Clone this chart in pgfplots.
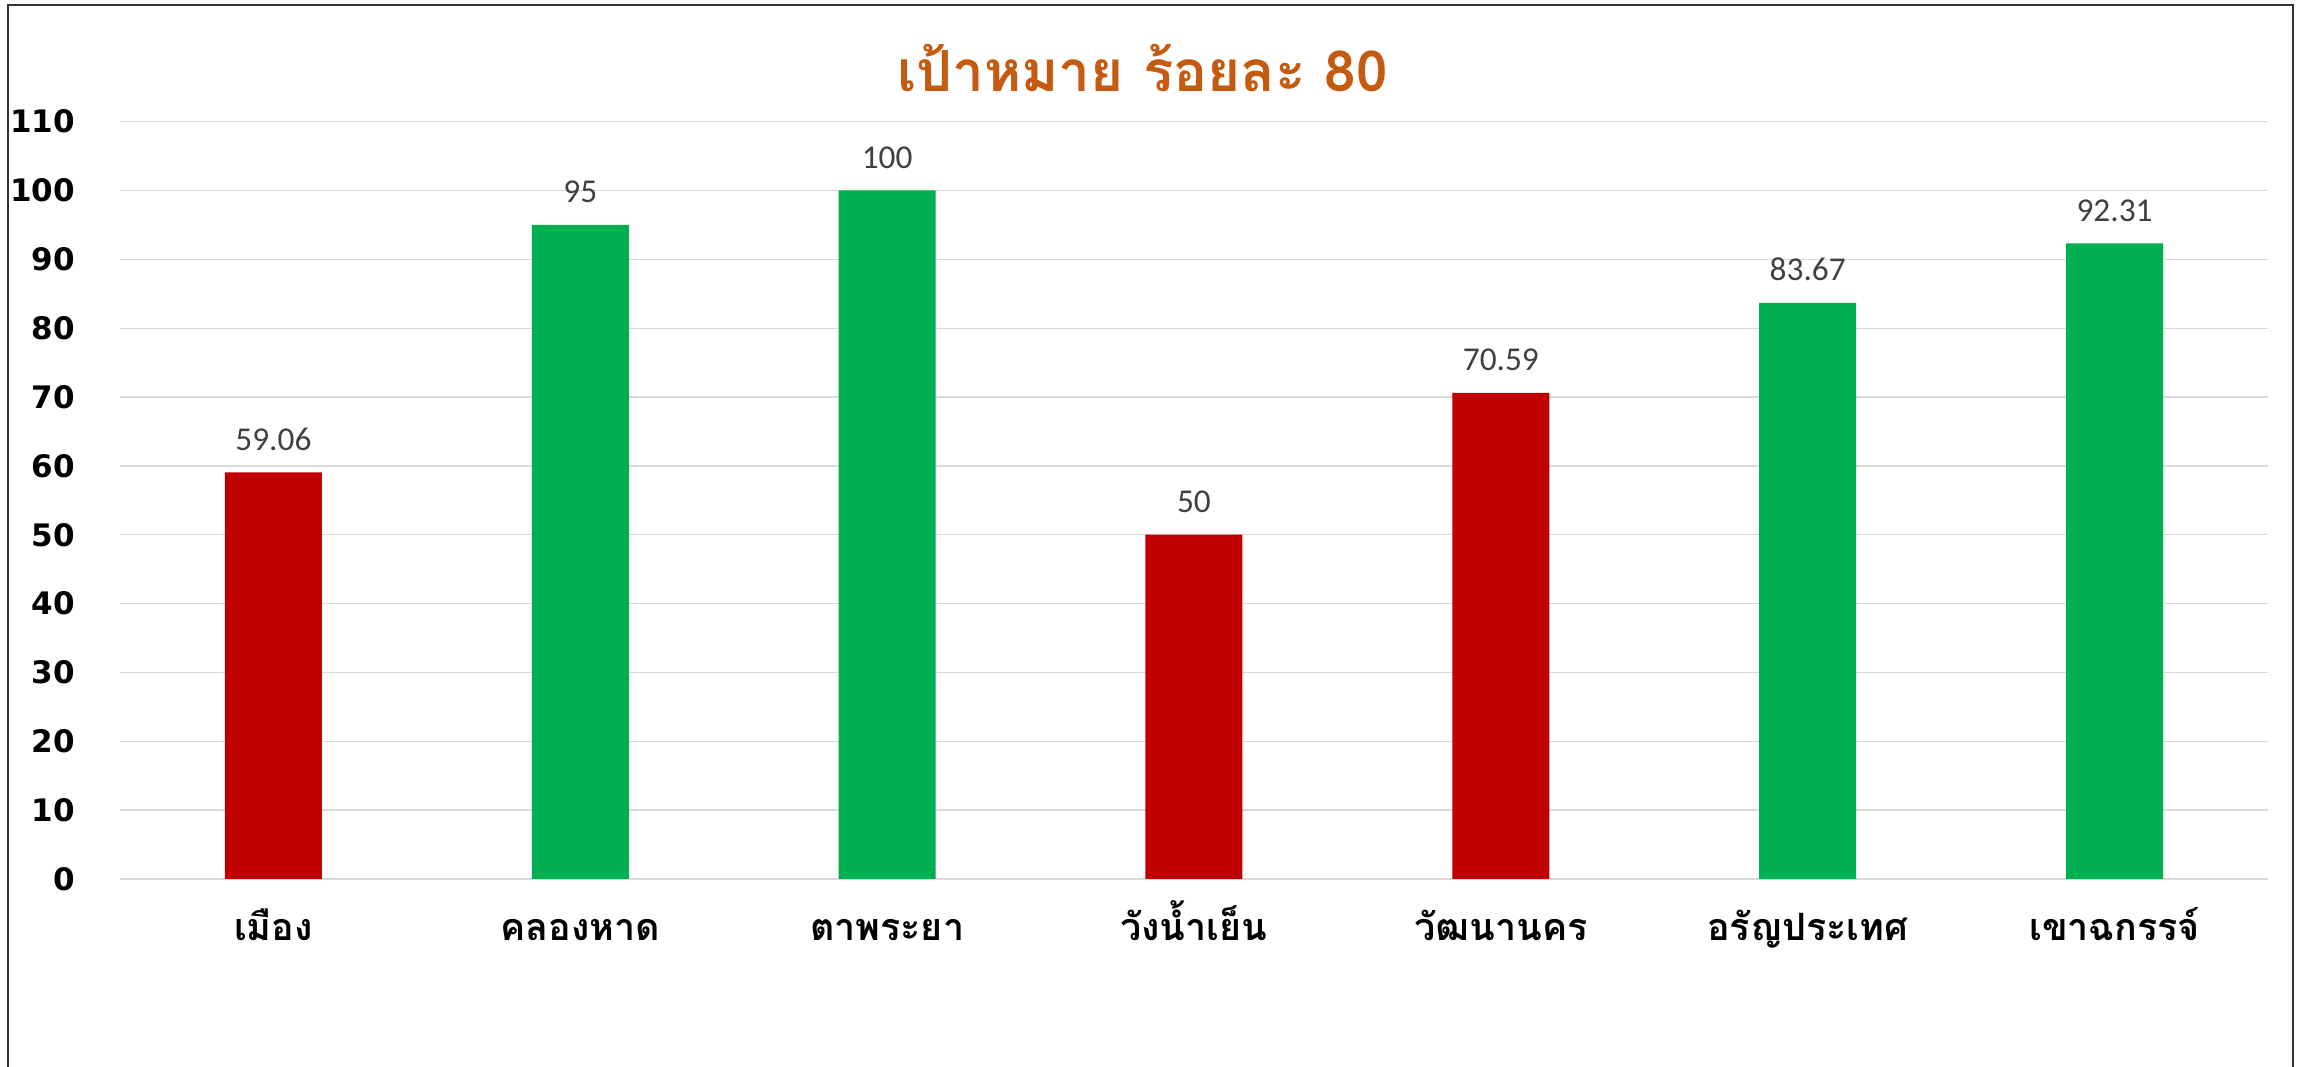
\documentclass[border=0pt]{standalone}
\usepackage{fontspec}
\usepackage{pgfplots}
\pgfplotsset{compat=1.18}
\newfontfamily\thaifont[Script=Thai]{Loma}
\newfontfamily\valfont{Carlito}
\newfontfamily\tickfont{DejaVu Sans}
\definecolor{barred}{HTML}{C00000}
\definecolor{bargreen}{HTML}{00B050}
\definecolor{titleorange}{HTML}{C55A11}
\definecolor{gridgray}{HTML}{D9D9D9}
\definecolor{valgray}{HTML}{404040}

% red = below target, green = at or above target
\pgfplotstableread{
x y lab
0 59.06 59.06
3 50 50
4 70.59 70.59
}\redtab
\pgfplotstableread{
x y lab
1 95 95
2 100 100
5 83.67 83.67
6 92.31 92.31
}\greentab

\begin{document}
\begin{tikzpicture}
\begin{axis}[
  at={(0,0)}, anchor=south west,
  width=644.4pt, height=227.2pt, scale only axis,
  xmin=-0.5, xmax=6.5, ymin=0, ymax=110,
  ytick={0,10,...,110},
  xtick={0,...,6},
  xticklabels={เมือง, คลองหาด, ตาพระยา, วังน้ำเย็น, วัฒนานคร, อรัญประเทศ, เขาฉกรรจ์},
  axis line style={draw=none},
  major tick length=0pt,
  ymajorgrids, grid style={gridgray, line width=0.4pt},
  yticklabel style={font=\tickfont\bfseries\fontsize{9.3}{10}\selectfont, xshift=-10pt},
  xticklabel style={font=\thaifont\bfseries\fontsize{11.3}{13}\selectfont,
                    anchor=base, yshift=-18.4pt},
  /pgf/number format/assume math mode=true,
  title={เป้าหมาย ร้อยละ 80},
  title style={at={(axis description cs:0.476,1.045)}, anchor=center,
               text=titleorange, font=\thaifont\bfseries\fontsize{17}{20}\selectfont},
  ybar, bar width=29.1pt, bar shift=0pt,
  nodes near coords, point meta=explicit symbolic,
  every node near coord/.append style={font=\valfont\fontsize{10}{12}\selectfont,
                                       text=valgray, yshift=3pt},
]
\addplot[draw=none, fill=barred] table[x=x, y=y, meta=lab] {\redtab};
\addplot[draw=none, fill=bargreen] table[x=x, y=y, meta=lab] {\greentab};
\end{axis}
\draw[black!80, line width=0.6pt] (-33.6pt,-70pt) |- (651.9pt,262.2pt) -- (651.9pt,-70pt);
\pgfresetboundingbox
\path (-36pt,-56.4pt) rectangle (653.1pt,263.7pt);
\end{tikzpicture}
\end{document}
